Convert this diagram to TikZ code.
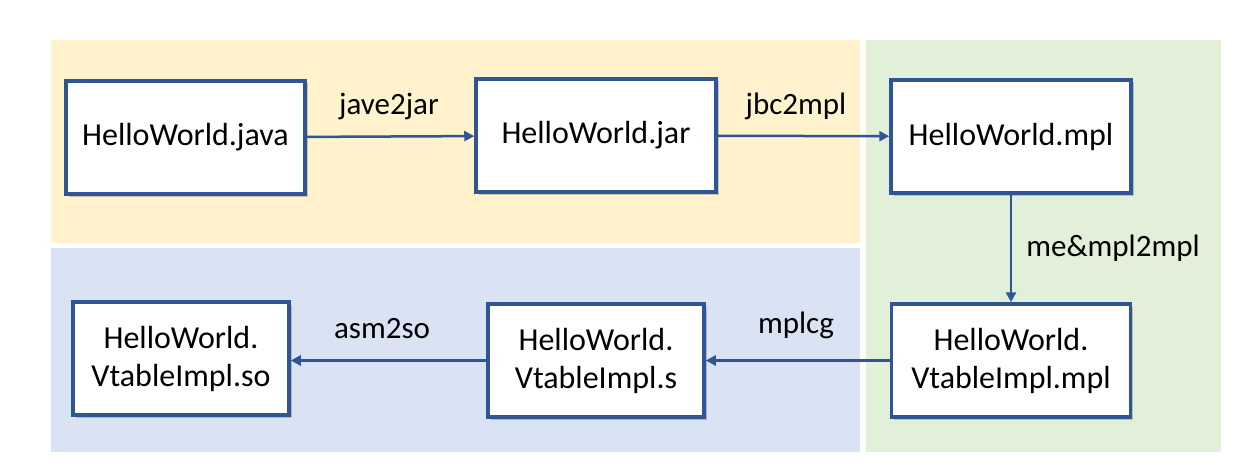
\documentclass[tikz,border=0pt]{standalone}
\usepackage{fontspec}
\setmainfont{Carlito}
\usetikzlibrary{arrows.meta,shadows}
\definecolor{bordblue}{HTML}{2F5597}
\definecolor{yel}{HTML}{FFF2CC}
\definecolor{blu}{HTML}{DAE3F3}
\definecolor{grn}{HTML}{E2F0D9}
\tikzset{
  filebox/.style={draw=bordblue, line width=3.5pt, fill=white, align=center,
    minimum height=113pt, inner sep=2pt,
    font=\fontsize{32}{38}\selectfont,
    drop shadow={shadow xshift=2.5pt, shadow yshift=-2.5pt, opacity=0.35, fill=black!60}},
  lbl/.style={font=\fontsize{31}{36}\selectfont, anchor=base, inner sep=0pt},
  arr/.style={draw=bordblue, line width=2.5pt, -{Triangle[length=10pt,width=10pt]}}
}
\begin{document}
\begin{tikzpicture}[x=1pt,y=-1pt]
\useasboundingbox (0,0) rectangle (1252,476);
\fill[yel] (51,40) rectangle (860,243);
\fill[blu] (51,248) rectangle (860,452);
\fill[grn] (866,40) rectangle (1221,452);

\node[filebox, minimum width=239pt] (java) at (185.5,137.5) {HelloWorld.java};
\node[filebox, minimum width=240pt] (jar) at (596,135.5) {HelloWorld.jar};
\node[filebox, minimum width=240pt] (mpl) at (1011,136.5) {HelloWorld.mpl};
\node[filebox, minimum width=239pt] (vmpl) at (1011,360.5) {HelloWorld.\\VtableImpl.mpl};
\node[filebox, minimum width=216pt] (s) at (596,360.5) {HelloWorld.\\VtableImpl.s};
\node[filebox, minimum width=216pt] (so) at (181,358.5) {HelloWorld.\\VtableImpl.so};

\draw[arr] (java) -- (jar);
\draw[arr] (jar) -- (mpl);
\draw[arr] (mpl) -- (vmpl);
\draw[arr] (vmpl) -- (s);
\draw[arr] (s.west) -- (so.east |- s.west);

\node[lbl] (l1) at (389,115) {jave2jar};
\node[lbl] (l2) at (796,115) {jbc2mpl};
\node[lbl] (l3) at (1113,256) {me\&mpl2mpl};
\node[lbl] (l4) at (382,338) {asm2so};
\node[lbl] (l5) at (796,333) {mplcg};
\end{tikzpicture}
\end{document}
